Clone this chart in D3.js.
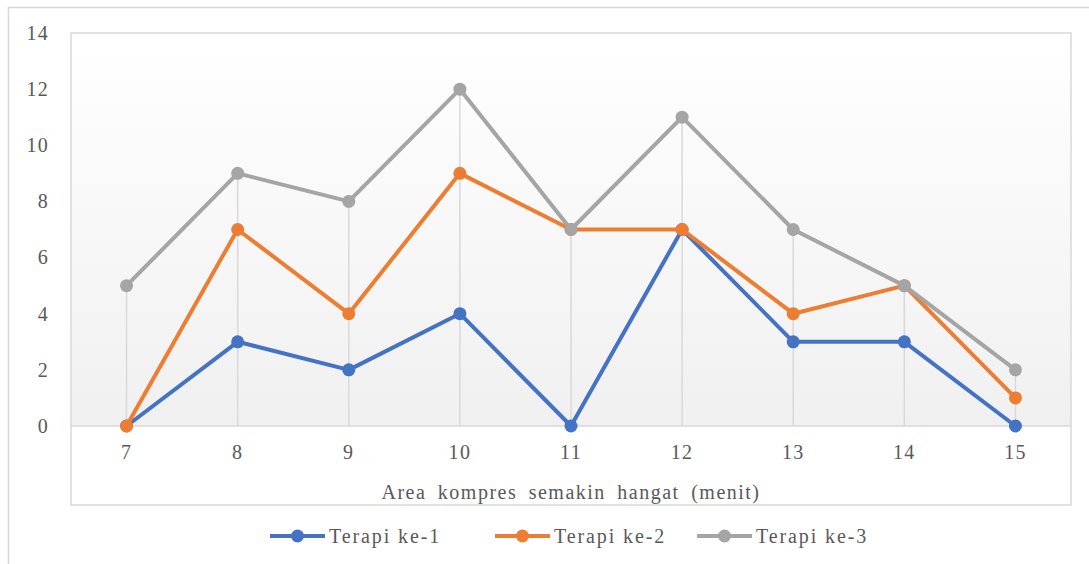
<!DOCTYPE html>
<html><head><meta charset="utf-8">
<script src="https://cdn.jsdelivr.net/npm/d3@7"></script>
<style>body{margin:0;background:#fff}svg{display:block}
svg text{font-family:"Liberation Serif","Times New Roman",serif;fill:#595959;letter-spacing:1.3px}</style>
</head><body>
<svg id="c" width="1089" height="564"></svg>
<script>
const categories = ["7","8","9","10","11","12","13","14","15"];
const seriesNames = ["Terapi ke-1","Terapi ke-2","Terapi ke-3"];
const terapi1 = [0,3,2,4,0,7,3,3,0];
const terapi2 = [0,7,4,9,7,7,4,5,1];
const terapi3 = [5,9,8,12,7,11,7,5,2];
const yTicks = [0,2,4,6,8,10,12,14];
const colors = ["#4472c4","#ed7d31","#a5a5a5"];
const xTitle = "Area kompres semakin hangat (menit)";

const series = [terapi1, terapi2, terapi3];
const svg = d3.select("#c");
const L = 71, R = 1071, T = 33, B = 426, FB = 505;

const defs = svg.append("defs");
const g = defs.append("linearGradient").attr("id","bg").attr("x1",0).attr("y1",0).attr("x2",0).attr("y2",1);
g.append("stop").attr("offset","0%").attr("stop-color","#ffffff");
g.append("stop").attr("offset","100%").attr("stop-color","#f0f0f0");

svg.append("path").attr("d",`M8.5,570 L8.5,7.5 L1095,7.5`).attr("fill","none").attr("stroke","#d9d9d9").attr("stroke-width",1.5);

const x = d3.scaleBand().domain(categories).range([L,R]);
const y = d3.scaleLinear().domain([0,14]).range([B,T]);

svg.append("rect").attr("x",L).attr("y",T).attr("width",R-L).attr("height",B-T).attr("fill","url(#bg)");
svg.append("rect").attr("x",L).attr("y",T).attr("width",R-L).attr("height",FB-T).attr("fill","none").attr("stroke","#d9d9d9").attr("stroke-width",1.5);
svg.append("line").attr("x1",L).attr("x2",R).attr("y1",y(0)).attr("y2",y(0)).attr("stroke","#d9d9d9").attr("stroke-width",1.5);

svg.append("g").selectAll("line").data(categories).join("line")
  .attr("x1",d=>x(d)+x.bandwidth()/2).attr("x2",d=>x(d)+x.bandwidth()/2)
  .attr("y1",(d,i)=>y(d3.max(series,s=>s[i]))).attr("y2",y(0))
  .attr("stroke","#d9d9d9").attr("stroke-width",1.5);

const ya = svg.append("g").attr("transform",`translate(${L},0)`)
  .call(d3.axisLeft(y).tickValues(yTicks).tickSize(0).tickPadding(22));
ya.select(".domain").remove();
ya.selectAll("text").attr("font-size",20).attr("font-family",null);

const xa = svg.append("g").attr("transform",`translate(0,${B})`)
  .call(d3.axisBottom(x).tickSize(0).tickPadding(19));
xa.select(".domain").remove();
xa.selectAll("text").attr("font-size",20).attr("font-family",null);
svg.selectAll(".tick text").attr("fill",null);

svg.append("text").attr("x",(L+R)/2).attr("y",499).attr("text-anchor","middle")
  .attr("font-size",20).attr("word-spacing","5px").style("letter-spacing","1.5px").text(xTitle);

const line = d3.line().x((d,i)=>x(categories[i])+x.bandwidth()/2).y(d=>y(d));
series.forEach((s,k)=>{
  svg.append("path").datum(s).attr("d",line).attr("fill","none").attr("stroke",colors[k]).attr("stroke-width",4).attr("stroke-linejoin","round");
  svg.append("g").selectAll("circle").data(s).join("circle")
    .attr("cx",(d,i)=>x(categories[i])+x.bandwidth()/2).attr("cy",d=>y(d)).attr("r",6.5).attr("fill",colors[k]);
});

const legX = [270, 495, 697];
seriesNames.forEach((n,k)=>{
  const lg = svg.append("g").attr("transform",`translate(${legX[k]},536)`);
  lg.append("line").attr("x1",0).attr("x2",55).attr("y1",0).attr("y2",0).attr("stroke",colors[k]).attr("stroke-width",4);
  lg.append("circle").attr("cx",27.5).attr("cy",0).attr("r",6.5).attr("fill",colors[k]);
  lg.append("text").attr("x",59).attr("y",7).attr("font-size",20).style("letter-spacing","1.9px").text(n);
});
</script>
</body></html>
